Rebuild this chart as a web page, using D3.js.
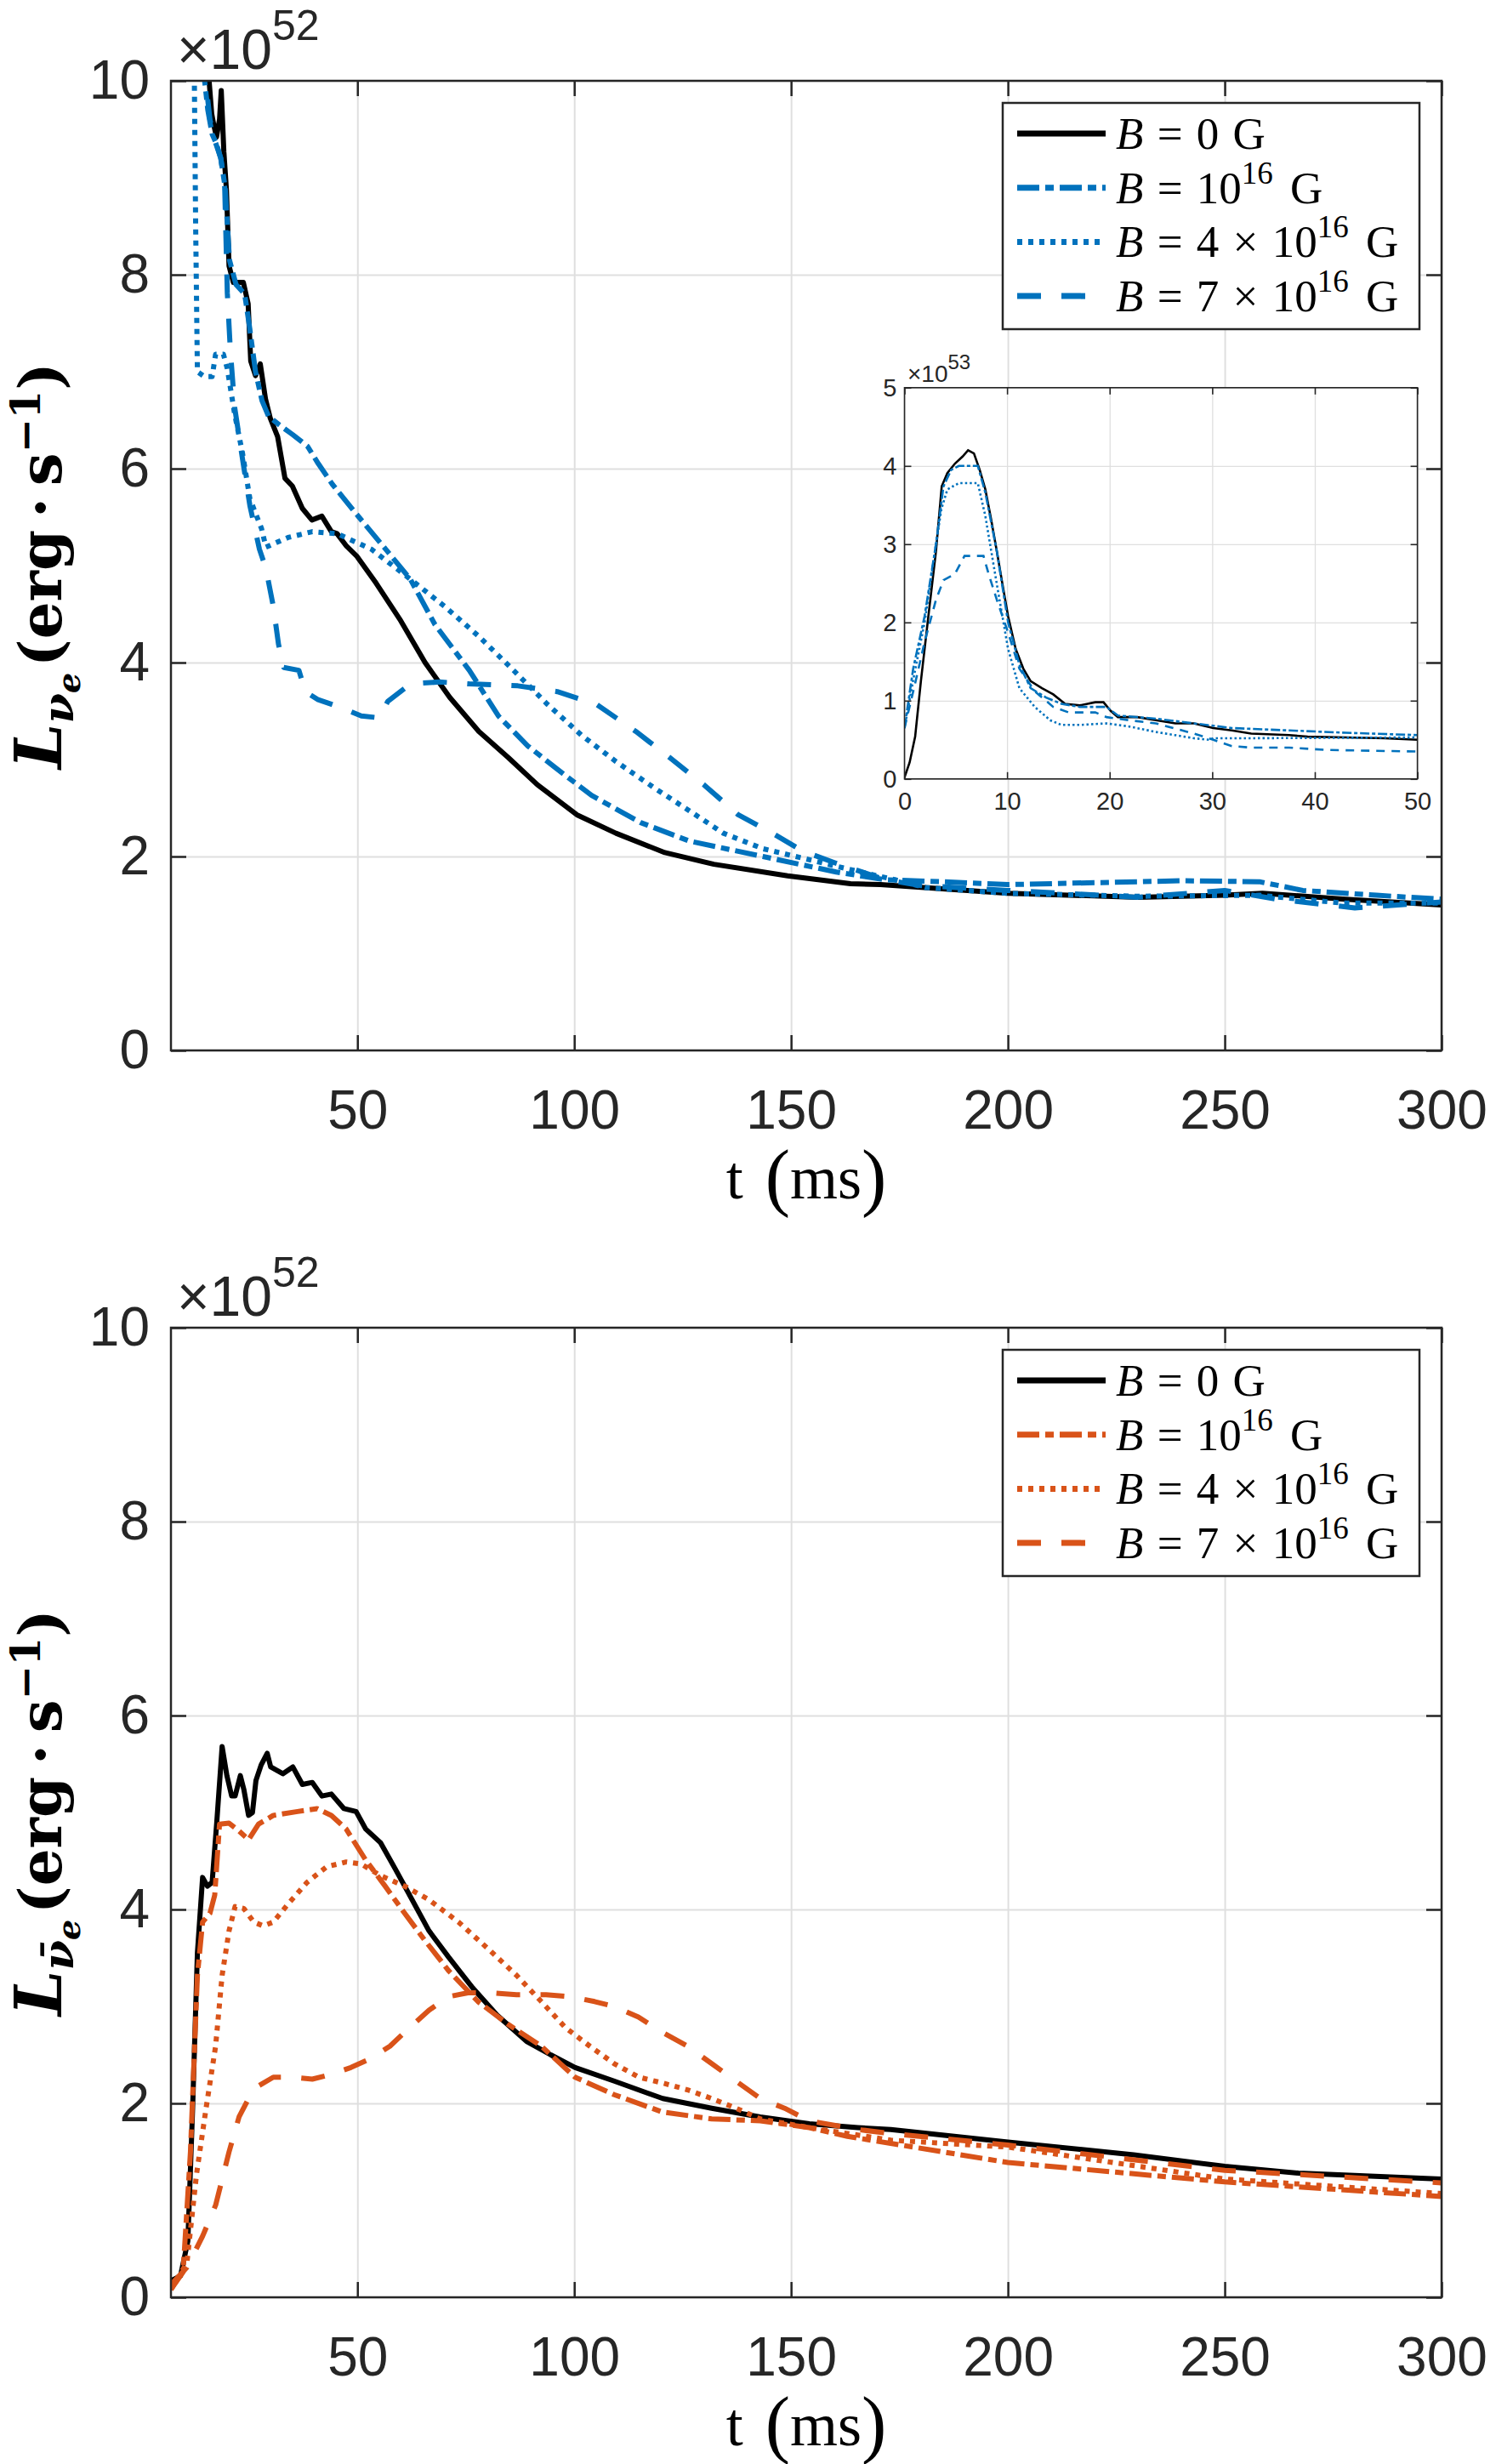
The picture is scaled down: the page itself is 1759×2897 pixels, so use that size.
<!DOCTYPE html>
<html>
<head>
<meta charset="utf-8">
<script src="https://cdn.jsdelivr.net/npm/d3@7"></script>
<style>
  body { margin: 0; background: #fff; }
</style>
</head>
<body>
<div id="chart"></div>
<script>
// luminosity in units of 1e52 erg/s, time in ms
const topB0 = [[7,41],[8,36],[9,29],[10,21],[11,16],[12,13],[13.4,11.6],[14.5,10.8],[15.8,10],[16.4,9.66],[16.9,9.54],[17.5,9.42],[18.2,9.6],[18.6,9.9],[19.2,9.27],[19.8,8.87],[20.4,8.09],[21.4,7.92],[23.7,7.92],[24.8,7.7],[25.4,7.11],[26.5,6.96],[27.6,7.08],[28.8,6.72],[29.9,6.52],[31.6,6.33],[33.3,5.9],[35,5.82],[37.3,5.59],[39.5,5.47],[41.8,5.51],[44,5.35],[45.3,5.33],[47.5,5.2],[49.8,5.1],[54.3,4.82],[60,4.43],[65.6,4.0],[71.3,3.64],[78,3.29],[84.8,3.02],[91.5,2.74],[100.6,2.43],[109.6,2.24],[120.9,2.04],[132.2,1.92],[149.2,1.8],[163.7,1.72],[170.6,1.71],[200,1.62],[230,1.58],[250,1.6],[258.7,1.62],[277.8,1.56],[300,1.5]];
const topB1 = [[7,40],[7.9,36.6],[9,29],[10.1,20],[11.2,14.6],[12.3,11.6],[13.8,10.4],[15.5,9.7],[16.5,9.45],[17.5,9.35],[18.5,9.2],[19.5,8.9],[20.5,8.15],[22,7.9],[24,7.8],[25,7.5],[26.5,7.0],[28,6.7],[29.5,6.54],[32,6.45],[35.1,6.35],[38.5,6.23],[41,6.05],[44.2,5.84],[49.8,5.53],[56.5,5.17],[62.2,4.86],[67.9,4.39],[75.8,3.92],[82.5,3.45],[89.3,3.14],[96.1,2.9],[104,2.63],[115.3,2.35],[126.5,2.16],[143.5,2.0],[160.4,1.84],[171.7,1.76],[185,1.74],[200,1.71],[220,1.73],[240,1.75],[258,1.74],[268,1.65],[285,1.6],[300,1.56]];
const topB4 = [[7,38],[8,35],[9,27],[10,18],[11,12.5],[12.3,10.5],[12.7,8.5],[13.1,7.0],[14.7,6.95],[16.5,6.95],[17.3,7.18],[19.1,7.18],[20,7.03],[21.7,6.56],[23.5,6.16],[25.2,5.69],[27.9,5.38],[28.9,5.19],[34,5.29],[39.6,5.35],[45.3,5.33],[53.2,5.17],[62.2,4.86],[70.1,4.58],[78,4.27],[86,3.92],[93.8,3.57],[101.7,3.25],[109.6,2.98],[118.7,2.7],[126.6,2.47],[134.4,2.24],[143.5,2.08],[154.8,1.96],[166,1.84],[174,1.76],[181,1.68],[200,1.62],[230,1.59],[258,1.6],[277,1.52],[300,1.52]];
const topB7 = [[7,28.5],[8,27],[9,24],[10,18.7],[11,14.1],[12,11.5],[13.5,10.6],[15,10.0],[16,9.6],[17,9.4],[18.5,9.2],[19.4,8.9],[20,7.81],[20.7,7.22],[21.7,6.63],[23.5,6.1],[25.2,5.62],[27.4,5.17],[28.9,4.97],[30.6,4.58],[31.8,4.19],[33,3.95],[36.5,3.92],[38,3.7],[40.8,3.62],[45.3,3.55],[50.9,3.45],[55,3.43],[57,3.6],[62.2,3.78],[68.9,3.8],[75.8,3.78],[87,3.76],[96.1,3.7],[105.1,3.57],[114.2,3.29],[122,3.02],[129.9,2.74],[137.8,2.43],[145.7,2.24],[152.5,2.06],[160.4,1.93],[171.7,1.76],[180,1.7],[200,1.65],[230,1.58],[250,1.65],[262,1.56],[280,1.47],[300,1.53]];

// inset: first 50 ms, units of 1e53 erg/s
const insetB0 = [[0,0.02],[0.5,0.21],[1.04,0.54],[1.6,1.25],[2.33,2.08],[3.07,2.91],[3.63,3.74],[4.18,3.91],[4.92,4.03],[5.66,4.12],[6.2,4.2],[6.77,4.16],[7.33,3.95],[7.88,3.7],[8.44,3.32],[9,2.91],[9.55,2.49],[10.1,2.08],[10.84,1.66],[11.58,1.41],[12.3,1.25],[13.4,1.16],[14.5,1.08],[15.65,0.96],[17.1,0.94],[18.6,0.98],[19.4,0.98],[20.1,0.87],[20.8,0.79],[22.7,0.79],[24.5,0.75],[26.4,0.71],[28.2,0.71],[30.1,0.65],[31.9,0.62],[33.8,0.58],[37.5,0.56],[39.3,0.54],[43,0.53],[46.8,0.52],[50,0.5]];
const insetB1 = [[0,0.65],[0.85,1.41],[1.96,2.08],[3.07,3.0],[3.8,3.74],[4.55,3.95],[5.3,4.0],[7.15,4.0],[7.88,3.66],[9,2.91],[10.1,2.0],[11.2,1.46],[12.3,1.16],[13.8,1.04],[15.3,0.96],[17.1,0.92],[19.7,0.92],[20.8,0.81],[24.5,0.77],[28.2,0.71],[31.9,0.65],[37.5,0.62],[43,0.59],[50,0.56]];
const insetB4 = [[0,0.65],[0.9,1.3],[1.96,2.0],[3.07,3.0],[3.6,3.45],[4.18,3.7],[5.3,3.78],[7.15,3.78],[7.88,3.36],[9,2.49],[10.1,1.66],[11.2,1.16],[12.7,0.92],[14.2,0.75],[15.3,0.69],[17.1,0.69],[19.7,0.71],[21.9,0.67],[24.5,0.6],[28.2,0.52],[29.7,0.5],[30.1,0.52],[33.8,0.52],[50,0.53]];
const insetB7 = [[0,0.65],[1,1.2],[1.96,1.75],[3.07,2.29],[3.8,2.54],[4.92,2.62],[5.85,2.85],[7.7,2.85],[8.2,2.62],[9,2.29],[10.1,1.87],[11.2,1.41],[12.7,1.12],[14.5,0.92],[16,0.85],[18.6,0.85],[19.7,0.79],[21.9,0.75],[24.5,0.71],[28.2,0.58],[30.1,0.5],[31.9,0.42],[33.8,0.4],[37.5,0.4],[41.2,0.37],[50,0.35]];

// antineutrino panel, units of 1e52 erg/s
const botB0 = [[7,0.17],[9.2,0.22],[10.9,0.58],[12,1.95],[13.1,3.55],[14.3,4.33],[15.4,4.24],[16.5,4.28],[17.6,4.92],[18.8,5.68],[19.9,5.38],[21,5.17],[21.8,5.17],[23,5.38],[23.8,5.24],[24.9,4.97],[25.8,5.0],[26.6,5.33],[27.8,5.49],[29.2,5.61],[30,5.47],[32.8,5.4],[35.1,5.47],[37.3,5.29],[39.6,5.31],[41.8,5.17],[44,5.19],[46.9,5.04],[49.7,5.01],[51.9,4.83],[55.3,4.69],[58.7,4.42],[62,4.15],[66.5,3.78],[71,3.51],[76.6,3.19],[82.2,2.91],[89,2.64],[94.6,2.5],[100.2,2.37],[109.2,2.23],[120.4,2.05],[131.7,1.95],[142.9,1.86],[154.2,1.79],[165.4,1.75],[173,1.73],[200,1.6],[229,1.47],[250,1.35],[267,1.28],[300,1.22]];
const botB1 = [[7,0.08],[9.8,0.26],[11.5,1.5],[13.1,3.32],[14.3,3.87],[16,3.96],[17.1,4.15],[18.2,4.88],[20.4,4.89],[22.7,4.81],[24.9,4.72],[27.2,4.88],[30.6,4.97],[36.2,5.01],[40.7,5.04],[44,4.97],[47.4,4.83],[51.9,4.51],[56.4,4.24],[60.9,3.96],[65.4,3.69],[71,3.37],[77.8,3.05],[84.6,2.82],[92.4,2.59],[100.2,2.27],[109.2,2.09],[120.4,1.91],[131.7,1.84],[142.9,1.82],[154.2,1.75],[163,1.66],[200,1.39],[250,1.19],[300,1.04]];
const botB4 = [[7,0.08],[10.7,0.36],[12.9,1.27],[15.1,1.95],[17.3,2.59],[18.8,3.32],[20.4,3.78],[21.8,4.03],[23.8,4.01],[26.1,3.87],[28.3,3.83],[30.6,3.87],[33.9,4.05],[38.4,4.28],[42.9,4.44],[47.4,4.49],[50.8,4.47],[55.3,4.35],[60.9,4.24],[66.5,4.1],[73.3,3.87],[80,3.6],[86.7,3.32],[92.4,3.05],[98,2.78],[103.6,2.59],[109.2,2.41],[114.9,2.27],[120.4,2.21],[126.1,2.14],[131.7,2.05],[137.3,1.95],[142.9,1.84],[154.2,1.75],[173,1.62],[200,1.55],[250,1.22],[300,1.07]];
const botB7 = [[7,0.13],[10.7,0.31],[14.3,0.63],[17.3,0.95],[20.4,1.5],[22.7,1.86],[24.9,2.05],[27.2,2.18],[30.6,2.27],[35.1,2.27],[39.6,2.25],[44,2.3],[48.5,2.37],[53,2.46],[57.5,2.59],[62,2.78],[66.5,2.96],[71,3.1],[75.5,3.14],[81.1,3.14],[86.7,3.12],[93.5,3.12],[99.1,3.1],[104.7,3.05],[109.2,3.0],[114.8,2.89],[120.4,2.73],[126.1,2.59],[131.7,2.41],[137.3,2.23],[142.9,2.05],[148.5,1.95],[154.2,1.82],[165.4,1.73],[173,1.69],[200,1.57],[250,1.31],[300,1.18]];

const xTicks = [50, 100, 150, 200, 250, 300];
const yTicks = [0, 2, 4, 6, 8, 10];
const insetXTicks = [0, 10, 20, 30, 40, 50];
const insetYTicks = [0, 1, 2, 3, 4, 5];
// legend: B = coef x 10^exp G
const legendCoef = ["0", "", "4 \u00d7 ", "7 \u00d7 "];
const legendExp = [null, "16", "16", "16"];

const width = 1759, height = 2897;
const axisColor = "#262626", gridColor = "#dfdfdf";
const blue = "#0072BD", orange = "#D95319";
const sans = "'Liberation Sans', Arial, sans-serif";
const serif = "'Liberation Serif', 'Times New Roman', serif";
const wideSerif = "'DejaVu Serif', serif";

// solid, dash-dot, dotted, dashed
const dashes = [null, "26,7,10,7", "6,7", "28,24"];
const insetDashes = [null, "11,3,4,3", "2.5,3", "10,8"];

const svg = d3
	.select("#chart")
	.append("svg")
	.attr("width", width)
	.attr("height", height)
	.style("background", "#fff");

const left = 201, right = 1695;

function drawPanel(id, top, bottom, series, color, barred) {
	const x = d3.scaleLinear().domain([7, 300]).range([left, right]);
	const y = d3.scaleLinear().domain([0, 10]).range([bottom, top]);
	const g = svg.append("g").attr("id", id);

	g.append("clipPath")
		.attr("id", id + "-clip")
		.append("rect")
		.attr("x", left)
		.attr("y", top)
		.attr("width", right - left)
		.attr("height", bottom - top);

	// grid
	g.append("g")
		.attr("transform", `translate(0,${bottom})`)
		.call(d3.axisBottom(x).tickValues(xTicks).tickSize(-(bottom - top)).tickFormat(""))
		.call((a) => a.select(".domain").remove())
		.selectAll("line")
		.attr("stroke", gridColor)
		.attr("stroke-width", 2);
	g.append("g")
		.attr("transform", `translate(${left},0)`)
		.call(d3.axisLeft(y).tickValues(yTicks).tickSize(-(right - left)).tickFormat(""))
		.call((a) => a.select(".domain").remove())
		.selectAll("line")
		.attr("stroke", gridColor)
		.attr("stroke-width", 2);

	const line = d3
		.line()
		.x((d) => x(d[0]))
		.y((d) => y(d[1]));

	series.forEach((s, i) => {
		g.append("path")
			.datum(s)
			.attr("clip-path", `url(#${id}-clip)`)
			.attr("d", line)
			.attr("fill", "none")
			.attr("stroke", i == 0 ? "#000" : color)
			.attr("stroke-width", 6)
			.attr("stroke-linejoin", "round")
			.attr("stroke-dasharray", dashes[i]);
	});

	// frame + inward ticks on all four sides
	g.append("rect")
		.attr("x", left)
		.attr("y", top)
		.attr("width", right - left)
		.attr("height", bottom - top)
		.attr("fill", "none")
		.attr("stroke", axisColor)
		.attr("stroke-width", 2.5);

	const xa = g
		.append("g")
		.attr("transform", `translate(0,${bottom})`)
		.call(d3.axisBottom(x).tickValues(xTicks).tickSize(-18).tickPadding(47));
	const ya = g
		.append("g")
		.attr("transform", `translate(${left},0)`)
		.call(d3.axisLeft(y).tickValues(yTicks).tickSize(-18).tickPadding(25));
	g.append("g")
		.attr("transform", `translate(0,${top})`)
		.call(d3.axisTop(x).tickValues(xTicks).tickSize(-18).tickFormat(""));
	g.append("g")
		.attr("transform", `translate(${right},0)`)
		.call(d3.axisRight(y).tickValues(yTicks).tickSize(-18).tickFormat(""));

	g.selectAll(".domain").remove();
	g.selectAll(".tick line")
		.filter(function () {
			return d3.select(this).attr("stroke") != gridColor;
		})
		.attr("stroke", axisColor)
		.attr("stroke-width", 2.5);
	[xa, ya].forEach((a) =>
		a.attr("font-family", sans).attr("font-size", 64).selectAll("text").attr("fill", axisColor)
	);

	// exponent
	const ex = g
		.append("text")
		.attr("x", 208)
		.attr("y", top - 14)
		.attr("font-family", sans)
		.attr("font-size", 66)
		.attr("fill", axisColor)
		.text("\u00d710");
	ex.append("tspan").attr("font-size", 50).attr("dy", -34).text("52");

	// x label
	const xl = g
		.append("text")
		.attr("x", (left + right) / 2)
		.attr("y", bottom + 174)
		.attr("text-anchor", "middle")
		.attr("font-family", serif)
		.attr("font-size", 72)
		.attr("fill", "#000");
	xl.append("tspan").text("t");
	xl.append("tspan").attr("dx", 26).attr("font-size", 88).attr("dy", 4).text("(");
	xl.append("tspan").attr("dy", -4).text("ms");
	xl.append("tspan").attr("font-size", 88).attr("dy", 4).text(")");

	// y label
	const yl = g
		.append("text")
		.attr("transform", `translate(72,${(top + bottom) / 2}) rotate(-90)`)
		.attr("text-anchor", "middle")
		.attr("font-family", wideSerif)
		.attr("font-weight", "bold")
		.attr("font-size", 69)
		.attr("fill", "#000");
	yl.append("tspan").attr("font-style", "italic").attr("font-size", 76).text("L");
	yl.append("tspan")
		.attr("font-style", "italic")
		.attr("font-size", 51)
		.attr("dy", 14)
		.text(barred ? "\u03bd\u0304" : "\u03bd");
	yl.append("tspan").attr("font-style", "italic").attr("font-size", 38).attr("dy", 8).text("e");
	yl.append("tspan").attr("dy", -22).attr("dx", 7).text("(erg\u2009\u00b7\u2009s");
	yl.append("tspan").attr("font-size", 48).attr("dy", -25).text("\u22121");
	yl.append("tspan").attr("dy", 25).text(")");

	// legend
	const lg = g.append("g").attr("transform", `translate(${right - 26 - 490},${top + 26})`);
	lg.append("rect")
		.attr("width", 490)
		.attr("height", 266)
		.attr("fill", "#fff")
		.attr("stroke", axisColor)
		.attr("stroke-width", 2.5);
	legendCoef.forEach((c, i) => {
		const cy = 36 + i * 63.7;
		lg.append("line")
			.attr("x1", 17)
			.attr("x2", 121)
			.attr("y1", cy)
			.attr("y2", cy)
			.attr("stroke", i == 0 ? "#000" : color)
			.attr("stroke-width", 7)
			.attr("stroke-dasharray", dashes[i]);
		const t = lg
			.append("text")
			.attr("x", 133)
			.attr("y", cy + 18)
			.attr("font-family", serif)
			.attr("font-size", 53)
			.attr("word-spacing", 3)
			.attr("fill", "#000");
		t.append("tspan").attr("font-style", "italic").text("B");
		t.append("tspan").text(" = " + c + (legendExp[i] ? "10" : ""));
		if (legendExp[i]) {
			t.append("tspan").attr("font-size", 37).attr("dy", -23).text(legendExp[i]);
			t.append("tspan").attr("dy", 23).attr("dx", 4).text(" G");
		} else {
			t.append("tspan").text(" G");
		}
	});
	return g;
}

function drawInset(series) {
	const l = 1063.5, r = 1666.6, t = 455.8, b = 915.8;
	const x = d3.scaleLinear().domain([0, 50]).range([l, r]);
	const y = d3.scaleLinear().domain([0, 5]).range([b, t]);
	const g = svg.append("g").attr("id", "inset");

	g.append("rect").attr("x", l).attr("y", t).attr("width", r - l).attr("height", b - t).attr("fill", "#fff");

	g.append("g")
		.attr("transform", `translate(0,${b})`)
		.call(d3.axisBottom(x).tickValues(insetXTicks).tickSize(-(b - t)).tickFormat(""))
		.call((a) => a.select(".domain").remove())
		.selectAll("line")
		.attr("stroke", gridColor)
		.attr("stroke-width", 1.3);
	g.append("g")
		.attr("transform", `translate(${l},0)`)
		.call(d3.axisLeft(y).tickValues(insetYTicks).tickSize(-(r - l)).tickFormat(""))
		.call((a) => a.select(".domain").remove())
		.selectAll("line")
		.attr("stroke", gridColor)
		.attr("stroke-width", 1.3);

	g.append("clipPath")
		.attr("id", "inset-clip")
		.append("rect")
		.attr("x", l)
		.attr("y", t)
		.attr("width", r - l)
		.attr("height", b - t);

	const line = d3
		.line()
		.x((d) => x(d[0]))
		.y((d) => y(d[1]));
	series.forEach((s, i) => {
		g.append("path")
			.datum(s)
			.attr("clip-path", "url(#inset-clip)")
			.attr("d", line)
			.attr("fill", "none")
			.attr("stroke", i == 0 ? "#000" : blue)
			.attr("stroke-width", 2.6)
			.attr("stroke-dasharray", insetDashes[i]);
	});

	g.append("rect")
		.attr("x", l)
		.attr("y", t)
		.attr("width", r - l)
		.attr("height", b - t)
		.attr("fill", "none")
		.attr("stroke", axisColor)
		.attr("stroke-width", 1.6);

	const fmt = d3.format("d");
	const xa = g
		.append("g")
		.attr("transform", `translate(0,${b})`)
		.call(d3.axisBottom(x).tickValues(insetXTicks).tickFormat(fmt).tickSize(-8).tickPadding(16));
	const ya = g
		.append("g")
		.attr("transform", `translate(${l},0)`)
		.call(d3.axisLeft(y).tickValues(insetYTicks).tickFormat(fmt).tickSize(-8).tickPadding(9));
	g.append("g")
		.attr("transform", `translate(0,${t})`)
		.call(d3.axisTop(x).tickValues(insetXTicks).tickSize(-8).tickFormat(""));
	g.append("g")
		.attr("transform", `translate(${r},0)`)
		.call(d3.axisRight(y).tickValues(insetYTicks).tickSize(-8).tickFormat(""));
	g.selectAll(".domain").remove();
	[xa, ya].forEach((a) =>
		a.attr("font-family", sans).attr("font-size", 29).selectAll("text").attr("fill", axisColor)
	);
	g.selectAll(".tick line")
		.filter(function () {
			return d3.select(this).attr("stroke") != gridColor;
		})
		.attr("stroke", axisColor)
		.attr("stroke-width", 1.6);

	const ex = g
		.append("text")
		.attr("x", 1067)
		.attr("y", 449)
		.attr("font-family", sans)
		.attr("font-size", 28)
		.attr("fill", axisColor)
		.text("\u00d710");
	ex.append("tspan").attr("font-size", 24).attr("dy", -15).text("53");
}

drawPanel("top", 95, 1235, [topB0, topB1, topB4, topB7], blue, false);
drawInset([insetB0, insetB1, insetB4, insetB7]);
drawPanel("bottom", 1561, 2701, [botB0, botB1, botB4, botB7], orange, true);
</script>
</body>
</html>
